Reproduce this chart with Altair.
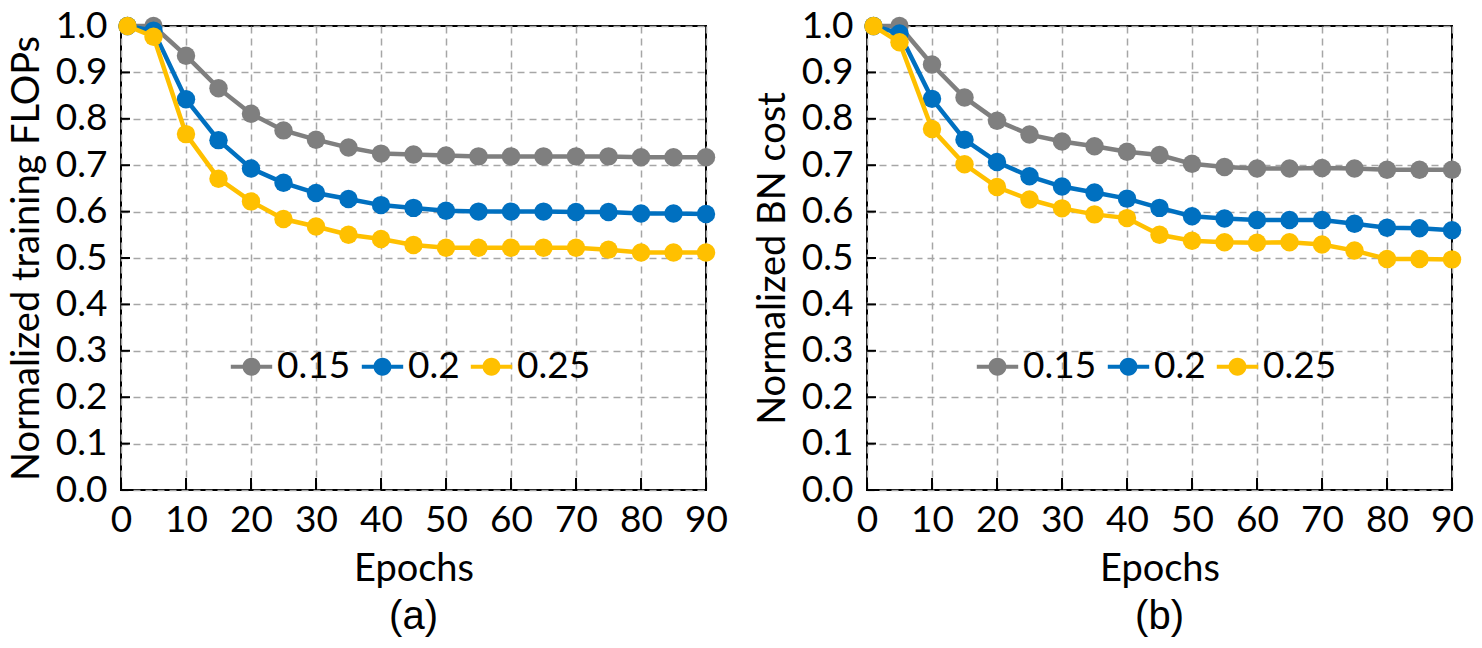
import altair as alt
import pandas as pd

# ---------------- data ----------------
epochs = [1, 5, 10, 15, 20, 25, 30, 35, 40, 45, 50, 55, 60, 65, 70, 75, 80, 85, 90]
series_names = ["0.15", "0.2", "0.25"]
series_colors = ["#7F7F7F", "#0070C0", "#FFC000"]

flops_015 = [1.0, 1.0, 0.936, 0.866, 0.811, 0.775, 0.755, 0.738, 0.725, 0.723,
             0.721, 0.719, 0.719, 0.719, 0.719, 0.719, 0.717, 0.717, 0.717]
flops_020 = [1.0, 0.99, 0.842, 0.754, 0.693, 0.662, 0.640, 0.627, 0.614, 0.608,
             0.602, 0.600, 0.600, 0.600, 0.599, 0.599, 0.596, 0.596, 0.595]
flops_025 = [1.0, 0.977, 0.767, 0.671, 0.622, 0.584, 0.568, 0.550, 0.541, 0.528,
             0.522, 0.522, 0.522, 0.522, 0.522, 0.518, 0.512, 0.512, 0.512]

bn_015 = [1.0, 1.0, 0.917, 0.846, 0.796, 0.766, 0.751, 0.741, 0.729, 0.722,
          0.703, 0.696, 0.693, 0.693, 0.694, 0.693, 0.690, 0.690, 0.690]
bn_020 = [1.0, 0.984, 0.843, 0.755, 0.707, 0.676, 0.654, 0.641, 0.628, 0.608,
          0.590, 0.585, 0.582, 0.582, 0.582, 0.574, 0.565, 0.564, 0.560]
bn_025 = [1.0, 0.965, 0.778, 0.702, 0.653, 0.626, 0.607, 0.594, 0.586, 0.550,
          0.537, 0.534, 0.533, 0.534, 0.529, 0.516, 0.498, 0.498, 0.497]

y_ticks = [0.0, 0.1, 0.2, 0.3, 0.4, 0.5, 0.6, 0.7, 0.8, 0.9, 1.0]
x_ticks = [0, 10, 20, 30, 40, 50, 60, 70, 80, 90]

FONT = "Lato"
W, H = 585, 464

# legend symbol: short line with a filled circle in the middle
SYMBOL = ("M-1.15,-0.11 L-0.4,-0.11 L-0.4,0.11 L-1.15,0.11 Z "
          "M0.4,-0.11 L1.15,-0.11 L1.15,0.11 L0.4,0.11 Z "
          "M0.5,0 A0.5,0.5 0 1,1 -0.5,0 A0.5,0.5 0 1,1 0.5,0 Z")


def make_panel(vals, ytitle, label):
    rows = []
    for name, series in zip(series_names, vals):
        for e, v in zip(epochs, series):
            rows.append({"epoch": e, "value": v, "series": name})
    df = pd.DataFrame(rows)

    x = alt.X("epoch:Q",
              scale=alt.Scale(domain=[0, 90], nice=False),
              axis=alt.Axis(values=x_ticks, title="Epochs", grid=True,
                            ticks=False, domain=False, labelPadding=12,
                            labelFlush=False, labelOverlap=False,
                            titlePadding=12))
    y = alt.Y("value:Q",
              scale=alt.Scale(domain=[0, 1], nice=False),
              axis=alt.Axis(values=y_ticks, format=".1f", title=ytitle,
                            grid=True, ticks=False, domain=False,
                            labelFlush=False, labelOverlap=False,
                            labelPadding=14, titlePadding=9))
    color = alt.Color("series:N",
                      scale=alt.Scale(domain=series_names, range=series_colors),
                      legend=alt.Legend(orient="none", direction="horizontal",
                                        legendX=112, legendY=322, title=None,
                                        symbolType=SYMBOL, symbolSize=1296,
                                        symbolStrokeWidth=0, labelFontSize=37,
                                        labelFont=FONT, labelOffset=7,
                                        columnPadding=10, labelColor="black"))

    layers = []
    for name in series_names:
        sub = df[df["series"] == name]
        base = alt.Chart(sub).encode(x=x, y=y, color=color)
        layers.append(base.mark_line(strokeWidth=4.5, clip=False))
        layers.append(base.mark_point(filled=True, size=340, opacity=1,
                                      shape="circle", clip=False))

    ytick_df = pd.DataFrame({"v": y_ticks})
    xtick_df = pd.DataFrame({"e": x_ticks})
    yt = alt.Chart(ytick_df).mark_rule(color="black", strokeWidth=2).encode(
        y=alt.Y("v:Q", scale=alt.Scale(domain=[0, 1], nice=False)),
        x=alt.value(0), x2=alt.value(9))
    xt = alt.Chart(xtick_df).mark_rule(color="black", strokeWidth=2).encode(
        x=alt.X("e:Q", scale=alt.Scale(domain=[0, 90], nice=False)),
        y=alt.value(H), y2=alt.value(H - 12))

    return alt.layer(yt, xt, *layers).properties(
        width=W, height=H,
        title=alt.TitleParams(label, orient="bottom", font="Liberation Sans",
                              fontSize=40, fontWeight="normal", offset=9,
                              color="black"))


pa = make_panel([flops_015, flops_020, flops_025], "Normalized training FLOPs", "(a)")
pb = make_panel([bn_015, bn_020, bn_025], "Normalized BN cost", "(b)")

chart = alt.hconcat(pa, pb, spacing=24).resolve_scale(
    color="independent").resolve_legend(color="independent").properties(
    padding={"left": 7, "top": 6, "right": 5, "bottom": 2},
    background="white"
).configure_view(stroke="black", strokeWidth=2).configure_axis(
    labelFont=FONT, titleFont=FONT, labelFontSize=37, titleFontSize=38,
    labelColor="black", titleColor="black", titleFontWeight="normal",
    gridColor="#A6A6A6", gridDash=[7, 5], gridWidth=1.5
)

chart.save("out.html", embed_options={"renderer": "svg", "actions": False})
